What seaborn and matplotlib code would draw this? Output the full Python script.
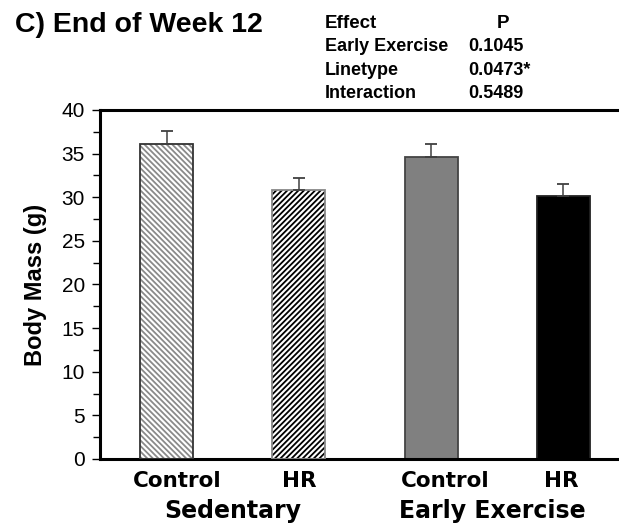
import matplotlib
matplotlib.use("Agg")
import matplotlib.pyplot as plt
import seaborn as sns
import pandas as pd

# datos
condition = ["Sedentary", "Sedentary", "Early Exercise", "Early Exercise"]
linetype = ["Control", "HR", "Control", "HR"]
body_mass = [36.1, 30.8, 34.6, 30.1]
sem = [1.5, 1.4, 1.5, 1.4]

effects = ["Early Exercise", "Linetype", "Interaction"]
p_values = ["0.1045", "0.0473*", "0.5489"]

df = pd.DataFrame({
    "grupo": [c + " " + l for c, l in zip(condition, linetype)],
    "linetype": linetype,
    "mass": body_mass,
    "sem": sem,
})

sns.set_style("ticks")
plt.rcParams["font.family"] = ["Liberation Sans", "DejaVu Sans"]
plt.rcParams["hatch.linewidth"] = 1.3
for k in ["text.color", "axes.labelcolor", "xtick.color", "ytick.color", "axes.edgecolor"]:
    plt.rcParams[k] = "black"

fig = plt.figure(figsize=(6.19, 5.28), dpi=100)
ax = fig.add_axes([0.1616, 0.1307, 0.8384, 0.661])

sns.barplot(data=df, x="grupo", y="mass", ax=ax, width=0.4, errorbar=None,
            color="white", saturation=1)

caras = ["white", "white", "#808080", "black"]
bordes = ["#333333", "#888888", "#444444", "#222222"]
rayas = ["\\\\\\\\\\\\", "//////", "", ""]
color_raya = ["#8a8a8a", "black", None, None]

barras = list(ax.patches)
for i, p in enumerate(barras):
    p.set_facecolor(caras[i])
    if rayas[i]:
        p.set_hatch(rayas[i])
        p.set_edgecolor(color_raya[i])
        p.set_linewidth(0)
        # contorno aparte
        ax.add_patch(plt.Rectangle((p.get_x(), 0), p.get_width(), p.get_height(),
                                   fill=False, edgecolor=bordes[i], linewidth=1.3, zorder=3))
    else:
        p.set_edgecolor(bordes[i])
        p.set_linewidth(1.3)

# barras de error, solo hacia arriba
xs = [p.get_x() + p.get_width() / 2 for p in barras]
ax.errorbar(xs, df["mass"], yerr=[[0] * len(sem), df["sem"]], fmt="none",
            ecolor="#404040", elinewidth=1.1, capsize=4.5, capthick=1.3, zorder=4)

ax.set_ylim(0, 40)
ax.set_xlim(-0.5025, 3.42)
ax.set_yticks(range(0, 41, 5))
ax.set_yticks([i + 2.5 for i in range(0, 40, 5)], minor=True)
ax.tick_params(axis="y", which="major", length=6, width=1, direction="out",
               labelsize=15, pad=5)
ax.tick_params(axis="y", which="minor", length=5, width=1, direction="out")
ax.tick_params(axis="x", length=0, pad=9)
# las etiquetas del original no estan centradas del todo bajo las barras
ax.set_xticks([0.08, 1.0, 2.11, 2.98])
ax.set_xticklabels(linetype, fontsize=15.5, fontweight="bold", family="DejaVu Sans")
ax.set_xlabel("")
ax.set_ylabel("Body Mass (g)", fontsize=17, fontweight="bold", labelpad=10)

for lado in ["left", "bottom", "top"]:
    ax.spines[lado].set_linewidth(2.2)
    ax.spines[lado].set_color("black")
ax.spines["right"].set_visible(False)

# etiquetas de grupo
ax.text(0.5, -0.169, "Sedentary", transform=ax.get_xaxis_transform(),
        ha="center", va="baseline", fontsize=17, fontweight="bold", family="DejaVu Sans")
ax.text(2.46, -0.169, "Early Exercise", transform=ax.get_xaxis_transform(),
        ha="center", va="baseline", fontsize=17, fontweight="bold", family="DejaVu Sans")

fig.text(0.024, 0.939, "C) End of Week 12", fontsize=20.5, fontweight="bold",
         va="baseline", ha="left")

fig.text(0.525, 0.947, "Effect", fontsize=13.5, fontweight="bold", va="baseline")
fig.text(0.8126, 0.947, "P", fontsize=13.5, fontweight="bold", va="baseline", ha="center")
for k, (e, pv) in enumerate(zip(effects, p_values)):
    yy = 0.947 - (k + 1) * 0.0442
    fig.text(0.525, yy, e, fontsize=13, fontweight="bold", va="baseline")
    fig.text(0.756, yy, pv, fontsize=13, fontweight="bold", va="baseline")

fig.savefig("out.png", dpi=100)
